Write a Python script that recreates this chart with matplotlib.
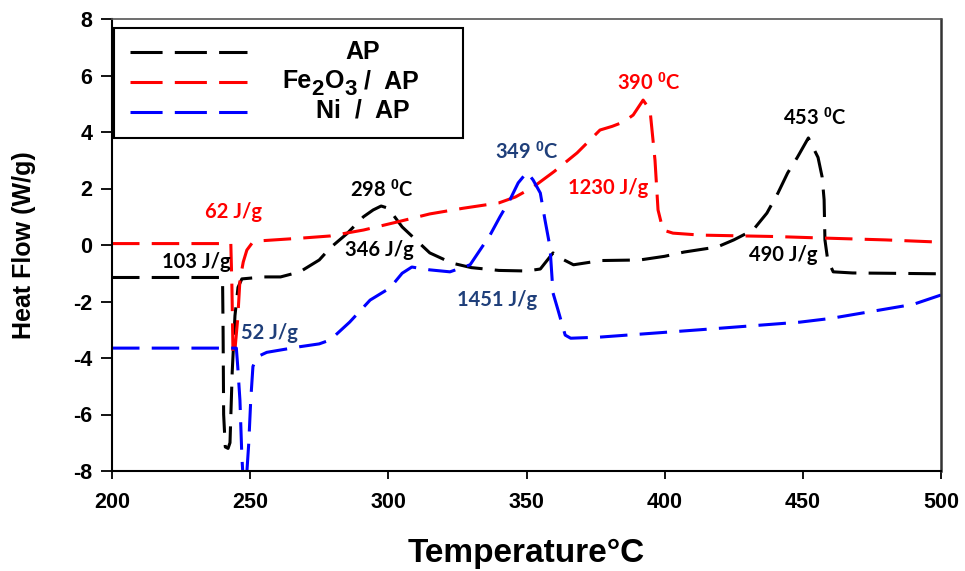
import matplotlib
matplotlib.use("Agg")
import matplotlib.pyplot as plt
from matplotlib.patches import Rectangle
from matplotlib.lines import Line2D

plt.rcParams['mathtext.fontset'] = 'custom'
plt.rcParams['mathtext.bf'] = 'Liberation Sans:bold'
plt.rcParams['mathtext.rm'] = 'Liberation Sans:bold'
plt.rcParams['mathtext.default'] = 'bf'

# ---------------- data ----------------
ap_T = [200, 240, 240.2, 240.4, 241, 242, 242.7, 243.5, 244.5, 245.6, 247, 255, 261, 268, 275, 279,
        285, 291, 294.5, 297.4, 300, 305, 310, 315, 323, 330, 340, 350, 355, 359.6, 363, 367, 377,
        391, 400, 407, 419, 425, 432, 437, 441, 444.5, 448, 452, 455.5, 457, 457.7, 458, 459, 461,
        468, 480, 500]
ap_Y = [-1.15, -1.15, -3.0, -6.0, -7.15, -7.2, -7.0, -4.5, -2.5, -1.5, -1.2, -1.13, -1.13, -0.95,
        -0.53, -0.1, 0.4, 1.0, 1.24, 1.38, 1.3, 0.64, 0.18, -0.28, -0.64, -0.8, -0.9, -0.92, -0.85,
        -0.28, -0.5, -0.7, -0.55, -0.53, -0.4, -0.25, -0.07, 0.18, 0.53, 1.13, 1.84, 2.55, 3.1, 3.79,
        3.1, 2.4, 1.6, 0.18, -0.53, -0.95, -0.99, -1.0, -1.02]

fe_T = [200, 243, 243.4, 243.8, 244.5, 245.5, 246.3, 247.5, 248.8, 250.7, 254, 268, 279, 291, 303,
        315, 327, 340, 346, 352.4, 360, 368.3, 376.6, 381, 385, 388.6, 392.2, 394.7, 396.5, 397.6,
        399.4, 403, 413, 440, 456, 480, 500]
fe_Y = [0.05, 0.05, -1.5, -3.9, -3.7, -2.6, -1.24, -0.6, -0.18, 0.07, 0.15, 0.24, 0.32, 0.53, 0.81,
        1.1, 1.3, 1.49, 1.7, 2.05, 2.6, 3.26, 4.07, 4.2, 4.35, 4.6, 5.13, 4.78, 3.0, 1.24, 0.53, 0.42,
        0.35, 0.3, 0.25, 0.18, 0.1]

ni_T = [200, 245, 245.5, 246.3, 247, 247.6, 248.5, 249.5, 250.2, 251, 252.5, 256, 262, 268, 275, 279,
        286, 293.4, 300.6, 305, 308.5, 315, 322.3, 329.6, 336.8, 340.4, 344, 347, 350.2, 352.4, 355,
        356.7, 358.5, 359.6, 361.4, 364, 366, 376.6, 412.8, 449, 460, 478, 490, 500]
ni_Y = [-3.65, -3.65, -4.3, -5.5, -7.5, -8.5, -8.5, -7.0, -5.5, -4.3, -3.96, -3.8, -3.7, -3.6, -3.5,
        -3.36, -2.73, -1.95, -1.52, -1.0, -0.78, -0.88, -0.95, -0.7, 0.35, 1.0, 1.6, 2.2, 2.58, 2.3,
        1.84, 0.88, -0.07, -1.7, -2.3, -3.19, -3.3, -3.26, -3.0, -2.73, -2.6, -2.3, -2.1, -1.77]

series_colors = ["#000000", "#FF0000", "#0000FF"]

x_ticks = [200, 250, 300, 350, 400, 450, 500]
y_ticks = [-8, -6, -4, -2, 0, 2, 4, 6, 8]

annotations = [
    ("62 J/g", 244.0, 1.17, "#FF0000"),
    ("103 J/g", 230.4, -0.6, "#000000"),
    ("52 J/g", 256.8, -3.12, "#1F3F7A"),
    ("298 $^{0}$C", 297.7, 1.95, "#000000"),
    ("346 J/g", 296.6, -0.18, "#000000"),
    ("349 $^{0}$C", 350.2, 3.3, "#1F3F7A"),
    ("1451 J/g", 339.3, -1.95, "#1F3F7A"),
    ("390 $^{0}$C", 394.4, 5.73, "#FF0000"),
    ("1230 J/g", 379.5, 2.02, "#FF0000"),
    ("453 $^{0}$C", 454.4, 4.5, "#000000"),
    ("490 J/g", 442.9, -0.35, "#000000"),
]

# ---------------- figure ----------------
fig = plt.figure(figsize=(9.65, 5.71), dpi=100)
ax = fig.add_axes([112/965, 100/571, 829/965, 452/571])

dash = (0, (9, 4))
for T, Y, c in zip([ap_T, fe_T, ni_T], [ap_Y, fe_Y, ni_Y], series_colors):
    ax.plot(T, Y, color=c, lw=2.2, linestyle=dash, dash_capstyle='butt')

ax.set_xlim(200, 500)
ax.set_ylim(-8, 8)
ax.set_xticks(x_ticks)
ax.set_yticks(y_ticks)
ax.set_xticklabels([str(v) for v in x_ticks], fontfamily='Liberation Sans', fontweight='bold', fontsize=15.5)
ax.set_yticklabels([str(v) for v in y_ticks], fontfamily='Liberation Sans', fontweight='bold', fontsize=15.5)
ax.tick_params(axis='x', direction='out', length=6, width=1.3, pad=9)
ax.tick_params(axis='y', direction='out', length=8, width=1.3, pad=6)

for s in ['left', 'bottom']:
    ax.spines[s].set_linewidth(1.5)
    ax.spines[s].set_color('black')
ax.spines['right'].set_linewidth(1.8)
ax.spines['right'].set_color('#333333')
ax.spines['top'].set_linewidth(1.2)
ax.spines['top'].set_color('#555555')

ax.set_xlabel("Temperature°C", fontfamily='Liberation Sans', fontweight='bold', fontsize=24, labelpad=18)
ax.set_ylabel("Heat Flow (W/g)", fontfamily='Liberation Sans', fontweight='bold', fontsize=18, labelpad=27)

for txt, x, y, c in annotations:
    ax.text(x, y, txt, color=c, fontfamily='Lato', fontweight='bold', fontsize=14.5,
            ha='center', va='center')

# legend box (drawn in axes coordinates)
ax.add_patch(Rectangle((0.0024, 0.737), 0.421, 0.243, transform=ax.transAxes,
                       facecolor='white', edgecolor='black', lw=1.5, zorder=5))
leg_y = [0.927, 0.860, 0.794]
for c, ly in zip(series_colors, leg_y):
    ax.add_line(Line2D([0.0217, 0.163], [ly, ly], transform=ax.transAxes, color=c, lw=2.2,
                       linestyle=(0, (10.5, 4)), zorder=6))

lf = dict(fontfamily='Liberation Sans', fontweight='bold', zorder=6)
ax.text(0.303, 0.927, "AP", transform=ax.transAxes, fontsize=18, ha='center', va='center', **lf)
ax.text(0.302, 0.797, "Ni  /  AP", transform=ax.transAxes, fontsize=18, ha='center', va='center', **lf)

# Fe2O3 / AP with near full-size subscripts, chained pieces
t1 = ax.text(0.205, 0.862, "Fe", transform=ax.transAxes, fontsize=18, ha='left', va='center', **lf)
t2 = ax.annotate("2", xy=(1, 0), xycoords=t1, xytext=(0, -5), textcoords='offset points',
                 fontsize=16, ha='left', va='bottom', **lf)
t3 = ax.annotate("O", xy=(1, 0), xycoords=t2, xytext=(1, 5), textcoords='offset points',
                 fontsize=18, ha='left', va='bottom', **lf)
t4 = ax.annotate("3", xy=(1, 0), xycoords=t3, xytext=(0, -5), textcoords='offset points',
                 fontsize=16, ha='left', va='bottom', **lf)
t5 = ax.annotate(" /  AP", xy=(1, 0), xycoords=t4, xytext=(0, 5), textcoords='offset points',
                 fontsize=18, ha='left', va='bottom', **lf)

fig.savefig("out.png", dpi=100)
